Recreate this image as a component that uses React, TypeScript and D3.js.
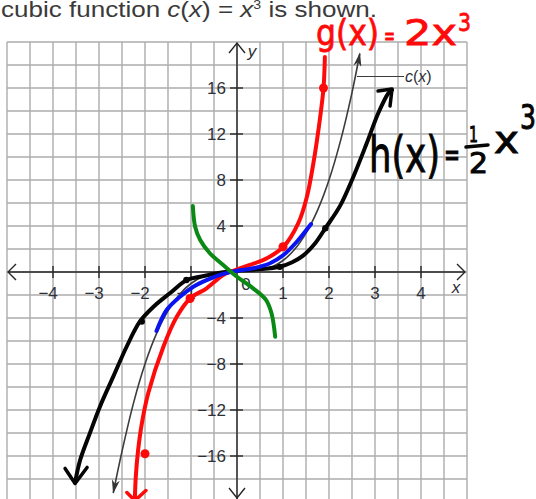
import React from 'react';
import * as d3 from 'd3';

const W = 536;
const H = 499;

// Axis ticks
const xTickValues = [-4, -3, -2, -1, 1, 2, 3, 4];
const yTickValues = [-16, -12, -8, -4, 4, 8, 12, 16];

// Printed parent curve c(x) = x^3  [x, y]
const cubicPts: [number, number][] = [
  [-2.69, -19.2], [-2.5, -15.6], [-2.25, -11.4], [-2.0, -8.0], [-1.75, -5.36],
  [-1.5, -3.38], [-1.25, -1.95], [-1.0, -1.0], [-0.75, -0.42], [-0.5, -0.13],
  [-0.25, -0.02], [0, 0], [0.25, 0.02], [0.5, 0.13], [0.75, 0.42], [1.0, 1.0],
  [1.25, 1.95], [1.5, 3.38], [1.75, 5.36], [2.0, 8.0], [2.25, 11.4], [2.5, 15.6],
  [2.67, 19.0],
];

// Hand-drawn g(x) = 2x^3 (red)
const gPts: [number, number][] = [
  [-2.22, -19.7], [-2.2, -17.8], [-2.15, -15.5], [-2.07, -13.2], [-1.93, -10.55],
  [-1.6, -6.5], [-1.31, -3.9], [-1.02, -2.3], [-0.66, -1.42], [-0.3, -0.26],
  [-0.04, 0.17], [0.28, 0.61], [0.65, 1.19], [1.01, 2.2], [1.33, 4.23],
  [1.52, 6.55], [1.66, 9.45], [1.77, 12.35], [1.88, 15.97], [1.91, 18.7],
];
const gDots: [number, number][] = [[-2.0, -15.8], [-1.02, -2.3], [1.0, 2.2], [1.88, 16.0]];

// Hand-drawn h(x) = 1/2 x^3 (black)
const hPts: [number, number][] = [
  [-3.52, -18.3], [-3.41, -16.35], [-3.2, -14.03], [-2.98, -11.71], [-2.69, -9.1],
  [-2.4, -6.5], [-2.11, -4.3], [-1.82, -3.04], [-1.46, -1.85], [-1.09, -0.7],
  [-0.8, -0.41], [-0.37, -0.06], [0, 0.11], [0.43, 0.23], [0.93, 0.46],
  [1.2, 0.85], [1.43, 1.4], [1.7, 2.5], [1.92, 3.8], [2.24, 5.75], [2.53, 8.29],
  [2.82, 11.19], [3.07, 13.8], [3.29, 15.54], [3.37, 15.83],
];
const hDots: [number, number][] = [[-2.07, -4.3], [-1.1, -0.7], [0.93, 0.45], [1.92, 3.8]];

// Blue trace
const bluePts: [number, number][] = [
  [-1.75, -5.13], [-1.53, -3.3], [-1.24, -2.15], [-0.95, -1.28], [-0.66, -0.7],
  [-0.3, -0.17], [0, 0.11], [0.35, 0.32], [0.72, 0.76], [1.01, 1.48],
  [1.3, 2.63], [1.61, 4.17],
];

// Green trace
const greenPts: [number, number][] = [
  [-0.96, 5.74], [-0.91, 3.94], [-0.8, 2.78], [-0.59, 1.63], [-0.3, 0.61],
  [0, -0.41], [0.35, -1.42], [0.63, -2.43], [0.75, -3.59], [0.83, -5.63],
];

const GRID = '#acacac';
const AXIS = '#262626';
const TEXT = '#2e3038';
const RED = '#ff0a0a';
const BLUE = '#0a14f0';
const GREEN = '#0a8a14';
const INK = '#050505';

export default function App() {
  const x = d3.scaleLinear().domain([-5, 5]).range([7, 467]);
  const y = d3.scaleLinear().domain([-20, 20]).range([502, 42]);

  const line = d3
    .line<[number, number]>()
    .x((d) => x(d[0]))
    .y((d) => y(d[1]))
    .curve(d3.curveCatmullRom.alpha(0.5));

  const gridX = d3.range(-5, 5.001, 0.5);
  const gridY = d3.range(-20, 20.001, 2);

  const hStart = hPts[0];
  const hEnd = hPts[hPts.length - 1];
  const gStart = gPts[0];

  const handFont = "'DejaVu Sans', sans-serif";

  return (
    <svg
      width={W}
      height={H}
      viewBox={`0 0 ${W} ${H}`}
      style={{ position: 'absolute', left: 0, top: 0, display: 'block', background: '#fff' }}
    >
      <defs>
        <marker
          id="cArrow"
          viewBox="0 0 14 8"
          refX={13}
          refY={4}
          markerWidth={14}
          markerHeight={8}
          markerUnits="userSpaceOnUse"
          orient="auto-start-reverse"
        >
          <path d="M0,0 L14,4 L0,8 L4,4 Z" fill="#333" />
        </marker>
      </defs>

      {/* title line */}
      <text
        x={1}
        y={17}
        fontFamily="'Liberation Sans', Arial, sans-serif"
        fontSize={22}
        fill="#3a3a3a"
        textLength={376}
        lengthAdjust="spacingAndGlyphs"
      >
        cubic function <tspan fontStyle="italic">c</tspan>(<tspan fontStyle="italic">x</tspan>) = <tspan fontStyle="italic">x</tspan>
        <tspan fontSize={12} dy={-8}>3</tspan>
        <tspan dy={8}> is shown.</tspan>
      </text>

      {/* grid */}
      <g stroke={GRID} strokeWidth={1.4}>
        {gridX.map((v) => (
          <line key={`gx${v}`} x1={x(v)} x2={x(v)} y1={y(20)} y2={y(-20)} />
        ))}
        {gridY.map((v) => (
          <line key={`gy${v}`} x1={x(-5)} x2={x(5)} y1={y(v)} y2={y(v)} />
        ))}
      </g>

      {/* axes */}
      <g stroke={AXIS} strokeWidth={1.4} fill="none">
        <line x1={x(-5) + 1} x2={x(5) - 2} y1={y(0)} y2={y(0)} />
        <line x1={x(0)} x2={x(0)} y1={y(20) + 1} y2={y(-20)} />
        <path d={`M${x(-5) + 9},${y(0) - 8} L${x(-5) + 1},${y(0)} L${x(-5) + 9},${y(0) + 8}`} />
        <path d={`M${x(5) - 10},${y(0) - 8} L${x(5) - 2},${y(0)} L${x(5) - 10},${y(0) + 8}`} />
        <path d={`M${x(0) - 8},${y(20) + 11} L${x(0)},${y(20) + 1} L${x(0) + 8},${y(20) + 11}`} />
        <path d={`M${x(0) - 8},${y(-20) - 14} L${x(0)},${y(-20) - 4} L${x(0) + 8},${y(-20) - 14}`} />
        {xTickValues.map((v) => (
          <line key={`xt${v}`} x1={x(v)} x2={x(v)} y1={y(0) - 6} y2={y(0) + 6} />
        ))}
        {yTickValues.map((v) => (
          <line key={`yt${v}`} x1={x(0) - 7} x2={x(0) + 6} y1={y(v)} y2={y(v)} />
        ))}
      </g>

      {/* tick labels */}
      <g fontFamily="'Liberation Sans', Arial, sans-serif" fontSize={17} fill={TEXT}>
        {xTickValues.map((v) =>
          v < 0 ? (
            <text key={`xl${v}`} x={x(v) + 4.8} y={y(0) + 27} textAnchor="end">
              {`\u2212${Math.abs(v)}`}
            </text>
          ) : (
            <text key={`xl${v}`} x={x(v)} y={y(0) + 27} textAnchor="middle">
              {v}
            </text>
          )
        )}
        {yTickValues.map((v) => (
          <text key={`yl${v}`} x={x(0) - 11} y={y(v) + 6} textAnchor="end">
            {v < 0 ? `\u2212${Math.abs(v)}` : v}
          </text>
        ))}
        <text x={x(0) + 9} y={y(0) + 18} textAnchor="middle">0</text>
        <text x={x(5) - 11} y={y(0) + 21} textAnchor="middle" fontStyle="italic">x</text>
        <text x={x(0) + 15} y={y(20) + 15} textAnchor="middle" fontStyle="italic">y</text>
      </g>

      {/* c(x) printed curve and label */}
      <path
        d={line(cubicPts) || ''}
        fill="none"
        stroke="#3c3c3c"
        strokeWidth={1.6}
        markerStart="url(#cArrow)"
        markerEnd="url(#cArrow)"
      />
      <line x1={357} x2={404} y1={y(17)} y2={y(17)} stroke="#3c3c3c" strokeWidth={1.1} />
      <text
        x={405}
        y={y(17) + 5}
        fontFamily="'Liberation Sans', Arial, sans-serif"
        fontSize={16}
        fill={TEXT}
      >
        <tspan fontStyle="italic">c</tspan>(<tspan fontStyle="italic">x</tspan>)
      </text>

      {/* h(x) = 1/2 x^3 */}
      <path d={line(hPts) || ''} fill="none" stroke={INK} strokeWidth={4} strokeLinecap="round" strokeLinejoin="round" />
      <g stroke={INK} strokeWidth={3.5} fill="none" strokeLinecap="round" strokeLinejoin="round">
        <path
          d={`M${x(hEnd[0]) - 14},${y(hEnd[1]) + 1} L${x(hEnd[0])},${y(hEnd[1]) - 1} L${x(hEnd[0]) - 2},${y(hEnd[1]) + 16}`}
        />
        <path
          d={`M${x(hStart[0]) - 10},${y(hStart[1]) - 14} L${x(hStart[0])},${y(hStart[1]) + 1} L${x(hStart[0]) + 12},${y(hStart[1]) - 15}`}
        />
      </g>

      {/* g(x) = 2x^3 */}
      <path d={line(gPts) || ''} fill="none" stroke={RED} strokeWidth={4} strokeLinecap="round" strokeLinejoin="round" />
      <path
        d={`M${x(gStart[0]) - 8},${y(gStart[1]) - 6} L${x(gStart[0])},${y(gStart[1]) + 2} L${x(gStart[0]) + 11},${y(gStart[1]) - 8}`}
        fill="none"
        stroke={RED}
        strokeWidth={3.5}
        strokeLinecap="round"
      />

      {/* blue and green traces */}
      <path d={line(bluePts) || ''} fill="none" stroke={BLUE} strokeWidth={4} strokeLinecap="round" strokeLinejoin="round" />
      <path d={line(greenPts) || ''} fill="none" stroke={GREEN} strokeWidth={4} strokeLinecap="round" strokeLinejoin="round" />

      {/* plotted points */}
      {gDots.map((d, i) => (
        <circle key={`gd${i}`} cx={x(d[0])} cy={y(d[1])} r={4.5} fill={RED} />
      ))}
      {hDots.map((d, i) => (
        <circle key={`hd${i}`} cx={x(d[0])} cy={y(d[1])} r={3.2} fill={INK} />
      ))}

      {/* handwritten g(x) = 2x^3 */}
      <g fontFamily={handFont} fill={RED} stroke={RED} strokeWidth={0.8}>
        <text x={316} y={45} fontSize={36} textLength={63} lengthAdjust="spacingAndGlyphs">g(x)</text>
        <text x={384} y={44} fontSize={24} textLength={11} lengthAdjust="spacingAndGlyphs">=</text>
        <text x={404} y={45} fontSize={36} textLength={53} lengthAdjust="spacingAndGlyphs">2x</text>
        <text x={458} y={31} fontSize={25} textLength={13} lengthAdjust="spacingAndGlyphs">3</text>
      </g>

      {/* handwritten h(x) = 1/2 x^3 */}
      <g fontFamily={handFont} fill={INK} stroke={INK} strokeWidth={1}>
        <text x={369} y={172} fontSize={50} textLength={71} lengthAdjust="spacingAndGlyphs">h(x)</text>
        <text x={444} y={166} fontSize={32} textLength={16} lengthAdjust="spacingAndGlyphs">=</text>
        <text x={469} y={142} fontSize={22} textLength={9} lengthAdjust="spacingAndGlyphs">1</text>
        <text x={469} y={173} fontSize={28} textLength={19} lengthAdjust="spacingAndGlyphs">2</text>
        <text x={494} y={153} fontSize={38} textLength={25} lengthAdjust="spacingAndGlyphs">x</text>
        <text x={520} y={129} fontSize={34} textLength={16} lengthAdjust="spacingAndGlyphs">3</text>
      </g>
      <line x1={466} x2={488} y1={147} y2={145} stroke={INK} strokeWidth={3.5} strokeLinecap="round" />
    </svg>
  );
}
